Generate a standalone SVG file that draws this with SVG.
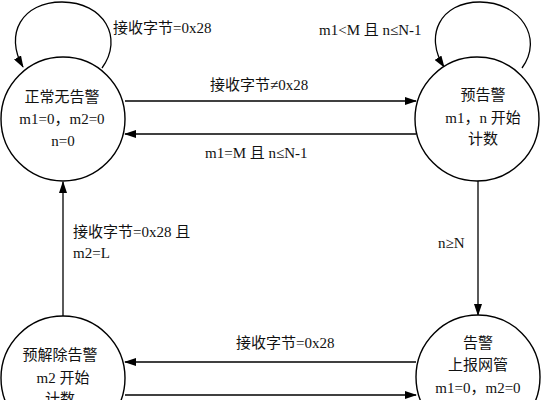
<svg xmlns="http://www.w3.org/2000/svg" width="542" height="400" viewBox="0 0 542 400">
<style>
.node{fill:#fff;stroke:#000;stroke-width:1.4}
.edge{fill:none;stroke:#000;stroke-width:1.3}
text{font-family:"Liberation Serif","Noto Sans CJK SC",serif;font-size:15px;fill:#111}
.c{text-anchor:middle}
</style>
<defs>
<marker id="ah" markerWidth="12" markerHeight="8" refX="11" refY="4" orient="auto" markerUnits="userSpaceOnUse">
<path d="M0,0 L12,4 L0,8 Z" fill="#000"/>
</marker>
</defs>
<rect width="542" height="400" fill="#fff"/>
<g id="connectors">
<path class="edge" d="M102,68 C124,38 104,2 62,2 C22,2 4,34 23,67" marker-end="url(#ah)"/>
<path class="edge" d="M522,68 C544,38 520,2 480,2 C440,2 424,36 444,67" marker-end="url(#ah)"/>
<line class="edge" x1="125" y1="101" x2="416" y2="101" marker-end="url(#ah)"/>
<line class="edge" x1="416" y1="134" x2="125" y2="134" marker-end="url(#ah)"/>
<line class="edge" x1="478" y1="181" x2="478" y2="315" marker-end="url(#ah)"/>
<line class="edge" x1="63" y1="316" x2="63" y2="182" marker-end="url(#ah)"/>
<line class="edge" x1="416" y1="362" x2="125" y2="362" marker-end="url(#ah)"/>
<line class="edge" x1="125" y1="395" x2="416" y2="395" marker-end="url(#ah)"/>
<text x="113" y="33">接收字节=0x28</text>
<text x="319" y="35">m1&lt;M 且 n≤N-1</text>
<text x="210" y="90">接收字节≠0x28</text>
<text x="205" y="158">m1=M 且 n≤N-1</text>
<text x="438" y="248">n≥N</text>
<text x="73" y="237">接收字节=0x28 且</text>
<text x="73" y="258">m2=L</text>
<text x="236" y="348">接收字节=0x28</text>
</g>
<g id="normal">
<circle class="node" cx="63" cy="119" r="62"/>
<text class="c" x="62" y="102">正常无告警</text>
<text class="c" x="62" y="124">m1=0，m2=0</text>
<text class="c" x="63" y="146">n=0</text>
</g>
<g id="prealarm">
<circle class="node" cx="477" cy="119" r="62"/>
<text class="c" x="483" y="100">预告警</text>
<text class="c" x="483" y="123">m1，n 开始</text>
<text class="c" x="483" y="144">计数</text>
</g>
<g id="preclear">
<circle class="node" cx="63" cy="378" r="62"/>
<text class="c" x="60" y="360">预解除告警</text>
<text class="c" x="63" y="383">m2 开始</text>
<text class="c" x="60" y="404">计数</text>
</g>
<g id="alarm">
<circle class="node" cx="478" cy="377" r="62"/>
<text class="c" x="478" y="348">告警</text>
<text class="c" x="478" y="370">上报网管</text>
<text class="c" x="478" y="393">m1=0，m2=0</text>
</g>
</svg>
